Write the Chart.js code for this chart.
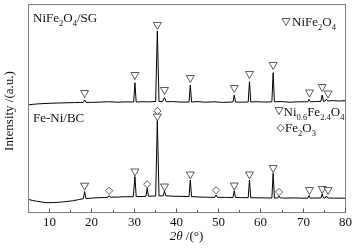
<!DOCTYPE html>
<html>
<head>
<meta charset="utf-8">
<script src="https://cdn.jsdelivr.net/npm/chart.js@4.4.1/dist/chart.umd.min.js"></script>
<style>
  html, body { margin: 0; padding: 0; background: #fff; }
  canvas { display: block; }
</style>
</head>
<body>
<canvas id="xrd-chart" width="355" height="248"></canvas>
<script>
// XRD patterns: 2θ (deg) vs intensity (a.u.)
const topAngle = [5, 6, 7, 8.5, 10, 12, 14, 16, 17.5, 18.1, 18.4, 18.7, 20, 22, 24, 26, 28, 30, 30.3, 30.6,
  32, 33.5, 35.2, 35.6, 36.0, 36.8, 37.3, 37.7, 39, 41, 43.1, 43.4, 43.7, 45, 47, 49, 51, 53.5, 53.8, 54.1,
  55.5, 57.1, 57.4, 57.7, 59, 61, 62.7, 63.0, 63.3, 65, 67, 69, 71.2, 71.5, 71.8, 73, 74.3, 74.6, 74.9,
  75.3, 75.6, 75.9, 77, 78.5, 80];
const topIntensity = [107, 107.6, 108, 108.4, 108.7, 109, 109.2, 109.4, 109.5, 109.6, 112, 109.7, 109.6, 109.9, 110.3, 109.8, 110.1, 110, 129.3, 110,
  110.3, 110.1, 110.5, 181, 110.6, 110.3, 114.3, 110.2, 110.5, 109.9, 110, 127, 110, 110.4, 109.8, 110.2, 109.6, 110, 117, 110,
  109.8, 110, 130.3, 110, 110.3, 109.9, 110.2, 139.3, 110.2, 110.4, 109.8, 110.2, 110.2, 112.7, 110.2, 110.5, 110.6, 117, 110.6,
  111, 113, 111, 111.4, 111, 111.3];

const bottomAngle = [5, 6, 7, 8.5, 9.5, 11, 12.5, 14, 15.5, 17, 18.1, 18.4, 18.7, 20, 21.5, 23, 23.9, 24.2, 24.5, 26,
  28, 29.9, 30.3, 30.6, 32, 32.9, 33.2, 33.5, 34.5, 35.2, 35.6, 36.0, 37.0, 37.3, 37.6, 39, 41, 43.1, 43.4, 43.7,
  45, 47, 49.2, 49.5, 49.8, 51.5, 53.5, 53.8, 54.1, 55.5, 57.1, 57.4, 57.7, 59, 61, 62.7, 63.0, 63.3, 64.1, 64.4,
  64.7, 66, 68, 70, 71.2, 71.5, 71.8, 73, 74.3, 74.6, 74.9, 75.3, 75.6, 75.9, 77.5, 80];
const bottomIntensity = [12.7, 11.6, 10.8, 9.8, 9.3, 9.4, 9.8, 10.4, 11.2, 12.4, 13.3, 20.5, 13.5, 13.8, 14.3, 14.4, 14.8, 16.3, 14.8, 14.9,
  15.3, 15.2, 35.5, 15.4, 15.5, 15.7, 23.7, 15.8, 15.9, 16, 91, 16.1, 16.2, 20.8, 16.2, 15.8, 15.6, 15.5, 32, 15.4,
  15.1, 14.8, 14.7, 17, 14.7, 14.6, 14.5, 21.3, 14.5, 14.4, 14.3, 32, 14.3, 14.2, 14.1, 14, 38.7, 14, 14, 16,
  14, 13.9, 14.1, 13.8, 13.8, 16.5, 13.8, 14, 14, 18, 14, 14, 16, 14, 13.9, 13.8];

// peak markers (▽ spinel, ◇ Fe2O3)
const topSpinelAngle = [18.4, 30.3, 35.6, 37.3, 43.4, 53.8, 57.4, 63.0, 71.6, 74.6, 76.0];
const topSpinelY = [118, 136, 186, 121, 133, 123, 137, 146, 118.5, 124, 117.5];
const bottomSpinelAngle = [18.4, 30.3, 35.6, 37.3, 43.4, 53.8, 57.4, 63.0, 71.6, 74.6, 76.0];
const bottomSpinelY = [25.3, 39.5, 94.5, 24.5, 36.5, 25.5, 36.5, 43, 21, 22, 21];
const bottomHematiteAngle = [24.2, 33.2, 35.6, 49.5, 64.4];
const bottomHematiteY = [21.3, 27.7, 101, 21.7, 20];

const xTicks = [10, 20, 30, 40, 50, 60, 70, 80];
const xMinorTicks = [15, 25, 35, 45, 55, 65, 75];

const SERIF = '"Liberation Serif", "Times New Roman", serif';

function toPoints(xs, ys) {
    return xs.map((v, i) => ({ x: v, y: ys[i] }));
}

function triangleDown(ctx, cx, cy) {
    ctx.beginPath();
    ctx.moveTo(cx - 4, cy - 3.5);
    ctx.lineTo(cx + 4, cy - 3.5);
    ctx.lineTo(cx, cy + 3.5);
    ctx.closePath();
    ctx.fillStyle = '#fff';
    ctx.fill();
    ctx.stroke();
}

function diamond(ctx, cx, cy) {
    ctx.beginPath();
    ctx.moveTo(cx, cy - 3.6);
    ctx.lineTo(cx + 3.6, cy);
    ctx.lineTo(cx, cy + 3.6);
    ctx.lineTo(cx - 3.6, cy);
    ctx.closePath();
    ctx.fillStyle = '#fff';
    ctx.fill();
    ctx.stroke();
}

// text with subscripts: parts = [[text, isSub], ...]
function drawRich(ctx, x, y, parts) {
    ctx.textBaseline = 'alphabetic';
    ctx.textAlign = 'left';
    ctx.fillStyle = '#111';
    let cx = x;
    parts.forEach(([t, sub]) => {
        ctx.font = sub ? `8.5px ${SERIF}` : `13px ${SERIF}`;
        ctx.fillText(t, cx, sub ? y + 3.5 : y);
        cx += ctx.measureText(t).width;
    });
}

const decorPlugin = {
    id: 'decor',
    afterDatasetsDraw(chart) {
        const { ctx, chartArea: a, scales: { x, y } } = chart;
        ctx.save();

        // frame
        ctx.strokeStyle = '#808080';
        ctx.lineWidth = 1;
        ctx.strokeRect(Math.round(a.left) + 0.5, Math.round(a.top) + 0.5,
            Math.round(a.width), Math.round(a.height));

        // inward ticks and labels on the 2θ axis
        ctx.strokeStyle = '#555';
        const b = Math.round(a.bottom) + 0.5;
        xMinorTicks.forEach(v => {
            const px = Math.round(x.getPixelForValue(v)) + 0.5;
            ctx.beginPath(); ctx.moveTo(px, b); ctx.lineTo(px, b - 2.5); ctx.stroke();
        });
        ctx.fillStyle = '#111';
        ctx.font = `13px ${SERIF}`;
        ctx.textAlign = 'center';
        ctx.textBaseline = 'alphabetic';
        xTicks.forEach(v => {
            const px = Math.round(x.getPixelForValue(v)) + 0.5;
            ctx.beginPath(); ctx.moveTo(px, b); ctx.lineTo(px, b - 4); ctx.stroke();
            ctx.fillText(String(v), px, a.bottom + 13.5);
        });

        // peak markers
        ctx.strokeStyle = '#333';
        ctx.lineWidth = 0.8;
        topSpinelAngle.forEach((v, i) => triangleDown(ctx, x.getPixelForValue(v), y.getPixelForValue(topSpinelY[i])));
        bottomSpinelAngle.forEach((v, i) => triangleDown(ctx, x.getPixelForValue(v), y.getPixelForValue(bottomSpinelY[i])));
        bottomHematiteAngle.forEach((v, i) => diamond(ctx, x.getPixelForValue(v), y.getPixelForValue(bottomHematiteY[i])));

        // sample labels and legends
        drawRich(ctx, 33, 22, [['NiFe', 0], ['2', 1], ['O', 0], ['4', 1], ['/SG', 0]]);
        drawRich(ctx, 33, 122, [['Fe-Ni/BC', 0]]);
        triangleDown(ctx, 286, 22);
        drawRich(ctx, 292, 26, [['NiFe', 0], ['2', 1], ['O', 0], ['4', 1]]);
        triangleDown(ctx, 279, 111);
        drawRich(ctx, 283.5, 116, [['Ni', 0], ['0.6', 1], ['Fe', 0], ['2.4', 1], ['O', 0], ['4', 1]]);
        diamond(ctx, 280.5, 128);
        drawRich(ctx, 285, 132, [['Fe', 0], ['2', 1], ['O', 0], ['3', 1]]);

        // axis titles
        ctx.fillStyle = '#111';
        ctx.font = `italic 13px ${SERIF}`;
        const w1 = ctx.measureText('2θ').width;
        ctx.font = `13px ${SERIF}`;
        const w2 = ctx.measureText(' /(°)').width;
        const cx = (a.left + a.right) / 2 - (w1 + w2) / 2;
        ctx.textAlign = 'left';
        ctx.font = `italic 13px ${SERIF}`;
        ctx.fillText('2θ', cx, 240);
        ctx.font = `13px ${SERIF}`;
        ctx.fillText(' /(°)', cx + w1, 240);

        ctx.translate(10, 111);
        ctx.rotate(-Math.PI / 2);
        ctx.textAlign = 'center';
        ctx.textBaseline = 'middle';
        ctx.fillText('Intensity /(a.u.)', 0, 0);

        ctx.restore();
    }
};

const ctx = document.getElementById('xrd-chart').getContext('2d');
new Chart(ctx, {
    type: 'line',
    data: {
        datasets: [{
            label: 'NiFe2O4/SG',
            data: toPoints(topAngle, topIntensity),
            borderColor: '#000',
            borderWidth: 1,
            pointRadius: 0,
            tension: 0,
        }, {
            label: 'Fe-Ni/BC',
            data: toPoints(bottomAngle, bottomIntensity),
            borderColor: '#000',
            borderWidth: 1,
            pointRadius: 0,
            tension: 0,
        }]
    },
    options: {
        responsive: false,
        animation: false,
        events: [],
        layout: { padding: { left: 28, right: 10, top: 4, bottom: 36 } },
        plugins: {
            legend: { display: false },
            tooltip: { enabled: false }
        },
        scales: {
            x: {
                type: 'linear',
                display: false,
                min: 5,
                max: 80
            },
            y: {
                display: false,
                min: 0,
                max: 208
            }
        }
    },
    plugins: [decorPlugin]
});
</script>
</body>
</html>
